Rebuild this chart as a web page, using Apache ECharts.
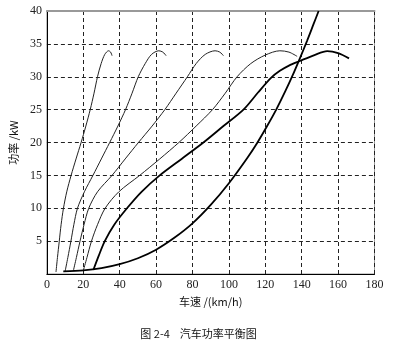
<!DOCTYPE html>
<html><head><meta charset="utf-8">
<script src="https://cdn.jsdelivr.net/npm/echarts@6/dist/echarts.min.js"></script>
<style>html,body{margin:0;padding:0;background:#fff}#c{width:397px;height:345px}</style>
</head><body><div id="c"></div>
<script>
// gear power curves: [speed km/h, power kW]
const gear1 = [[5,0.3],[5.8,2.5],[6.8,5],[7.8,7.5],[9.1,10],[10.9,12.5],[13.3,15],[16,17.5],[18.8,20],[21.4,22.5],[23.8,25],[25.9,27.5],[27.8,30],[29.8,32],[31.8,33.4],[33.9,33.95],[35,33.75],[35.8,33.2]];
const gear2 = [[10,0.4],[11.5,2.5],[13.2,5],[14.8,7.5],[16.8,10],[20.6,12.5],[25.3,15],[29.9,17.5],[34.5,20],[39,22.5],[43.2,25],[46.8,27.5],[50.2,30],[54,32],[57.5,33.4],[61.5,33.95],[63.7,33.75],[65.5,33.2]];
const gear3 = [[14.5,0.45],[16.2,2.5],[18.2,5],[20.4,7.5],[23,10],[27.8,12.5],[35.8,15],[43,17.5],[50.3,20],[57.8,22.5],[64.8,25],[71,27.5],[77.2,30],[82,32],[87,33.4],[92.4,33.95],[95,33.75],[97,33.2]];
const gear4 = [[20,0.5],[22,2.5],[24.5,5],[27.8,7.5],[32,10],[39.5,12.5],[51,15],[62,17.5],[72.5,20],[82,22.5],[91,25],[98,27.5],[104.5,30],[112,32],[120,33.3],[128,33.95],[133,33.75],[137.5,33.1]];
const gear5 = [[25.5,0.6],[28.5,2.8],[31.8,5],[37,7.5],[44,10],[52,12.5],[62,15],[74,17.5],[86,20],[97,22.5],[108,25],[116,27.6],[123,29.8],[128,30.9],[133,31.7],[139,32.4],[147,33.3],[154,33.9],[160,33.6],[166,32.8]];
// resistance power curve
const resist = [[9,0.4],[20,0.55],[30,0.9],[40,1.5],[50,2.4],[60,3.7],[70,5.5],[80,7.7],[90,10.5],[100,13.8],[110,17.6],[115.7,20],[121,22.5],[126,25],[131,27.8],[135,30.2],[139,32.8],[143,35.5],[146.5,38],[149.3,40]];
const xName = '车速 /(km/h)';
const yName = '功率 /kW';
const caption = '图 2-4    汽车功率平衡图';

const chart = echarts.init(document.getElementById('c'));
const thin = {color:'#222', width:1};
const thick = {color:'#000', width:1.8};
function mk(d, st){ return {type:'line', data:d, smooth:0.3, symbol:'none', lineStyle:st, silent:true, animation:false, z:3}; }
chart.setOption({
  animation:false,
  grid:{left:40, right:22.5, top:11, bottom:71, show:true, borderColor:'#999', borderWidth:1},
  xAxis:[{type:'value', min:0, max:180, interval:20,
    name:xName, nameLocation:'middle', nameGap:19,
    nameTextStyle:{fontFamily:'Noto Sans CJK SC', fontSize:11, color:'#111'},
    axisLine:{lineStyle:{color:'#000', width:1}}, axisTick:{show:false},
    axisLabel:{fontFamily:'Liberation Serif', fontSize:12, color:'#222', margin:5},
    splitLine:{show:true, lineStyle:{color:'#222', type:[4,3], width:1}}},
    {type:'value', position:'top', min:0, max:180, interval:20,
    axisLine:{show:true, lineStyle:{color:'#999', width:2}}, axisTick:{show:false}, axisLabel:{show:false}, splitLine:{show:false}}],
  yAxis:{type:'value', min:0, max:40, interval:5,
    name:yName, nameLocation:'middle', nameGap:20, nameRotate:90,
    nameTextStyle:{fontFamily:'Noto Sans CJK SC', fontSize:11, color:'#111'},
    axisLine:{show:true, lineStyle:{color:'#000', width:1}}, axisTick:{show:false},
    axisLabel:{fontFamily:'Liberation Serif', fontSize:12, color:'#222', margin:5, showMinLabel:false},
    splitLine:{show:true, lineStyle:{color:'#222', type:[4,3], width:1}}},
  graphic:[{type:'text', left:'center', top:328, style:{text:caption, font:'11px "Noto Sans CJK SC"', fill:'#111'}}],
  series:[mk(gear1,thin), mk(gear2,thin), mk(gear3,thin), mk(gear4,thin), mk(gear5,thick), mk(resist,thick)]
});
</script></body></html>
